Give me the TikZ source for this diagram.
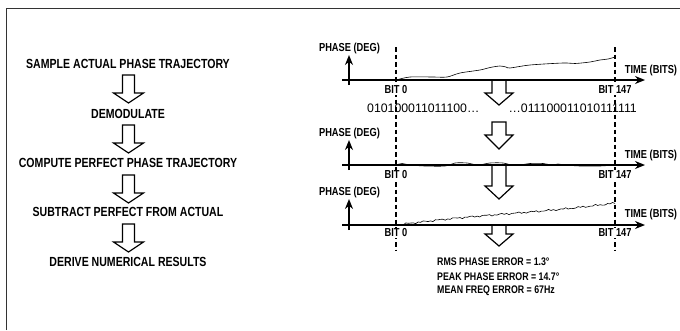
\documentclass[tikz,border=0pt]{standalone}
\usepackage{fontspec}
\setmainfont{Liberation Sans}
\newfontfamily\condfont[FakeStretch=0.8]{Liberation Sans}
\usepackage{tikz}
\usetikzlibrary{positioning,calc,arrows.meta}

\tikzset{
  steplabel/.style={font=\condfont\bfseries\fontsize{13.2}{15}\selectfont},
  axislabel/.style={font=\condfont\bfseries\fontsize{11.6}{13}\selectfont},
  bitlabel/.style={axislabel,fill=white,inner sep=1pt},
  resultlabel/.style={font=\condfont\bfseries\fontsize{11}{13}\selectfont,anchor=west,inner sep=0pt},
  bitstring/.style={font=\fontsize{12.3}{14}\selectfont,inner sep=0pt},
  hollow/.style={draw,line width=1.2pt,fill=white,line join=miter},
  axisline/.style={line width=1.6pt,-{Stealth[length=10pt,width=8pt]}},
  marker/.style={line width=1.2pt,dash pattern=on 4.5pt off 3pt},
  trace/.style={line width=0.6pt},
  pics/blockarrow/.style args={#1/#2/#3/#4}{code={
    \draw[hollow] (-#3,0) -- (#3,0) -- (#3,#1) -- (#4,#1) -- (0,#2)
      -- (-#4,#1) -- (-#3,#1) -- cycle;}}
}

\begin{document}
\begin{tikzpicture}[x=1pt,y=-1pt]
\useasboundingbox (0,0) rectangle (680,330);
% frame
\draw[line width=1.5pt,black!80] (6.5,330) -- (6.5,8.5) -- (680,8.5);

% left column
\node[steplabel] (sample)   at (128,64)  {SAMPLE ACTUAL PHASE TRAJECTORY};
\node[steplabel] (demod)    at (128,114) {DEMODULATE};
\node[steplabel] (compute)  at (128,163) {COMPUTE PERFECT PHASE TRAJECTORY};
\node[steplabel] (subtract) at (128,212) {SUBTRACT PERFECT FROM ACTUAL};
\node[steplabel] (derive)   at (128,262) {DERIVE NUMERICAL RESULTS};
\pic at (128.5,75)  {blockarrow=18/28/6/15};
\pic at (128.5,125) {blockarrow=18/28/6/15};
\pic at (128.5,175) {blockarrow=18/28/6/15};
\pic at (128.5,224) {blockarrow=18/28/6/15};

% bit markers
\draw[marker] (396,47) -- (396,250);
\draw[marker] (615,47) -- (615,250);

% plot 1: actual phase
\draw[trace] plot[smooth,tension=0.5] coordinates {(396,80) (410,77) (433,77) (447,77)
  (460,73) (480,70) (490,67.5) (500,66) (506,67) (510,68) (530,65) (563,63)
  (575,63.5) (590,62) (600,60) (608,59) (615,57)};
\pic at (499,80) {blockarrow=13/25/7/14};
\draw[axisline] (342,80) coordinate (x1a) -- (645,80) coordinate (x1b);
\draw[axisline] (349,85) coordinate (y1a) -- (349,55) coordinate (y1b);
\node[axislabel] (phase1) at (349.5,48) {PHASE (DEG)};
\node[axislabel] (time1)  at (651,70)   {TIME (BITS)};
\node[bitlabel] (bitA1) at (396,90) {BIT 0};
\node[bitlabel] (bitB1) at (615,90) {BIT 147};

% demodulated bits
\node[bitstring,anchor=west] (bitsA) at (367,108) {010100011011100…};
\node[bitstring,anchor=east] (bitsB) at (637,108) {…011100011010111111};
\pic at (499,122) {blockarrow=13/27/7/14};

% plot 2: perfect phase
\draw[trace] plot[smooth,tension=0.5] coordinates {(396,165) (402,163.5) (410,165)
  (425,166) (445,166) (455,163) (467,163) (478,165) (490,163) (503,163)
  (515,165.5) (530,163.5) (543,163.5) (552,165) (558,164) (565,165)
  (580,166) (600,166) (615,165)};
\pic at (499,165) {blockarrow=21/34/7/14};
\draw[axisline] (342,165) coordinate (x2a) -- (645,165) coordinate (x2b);
\draw[axisline] (349,170) coordinate (y2a) -- (349,140) coordinate (y2b);
\node[axislabel] (phase2) at (349.5,133) {PHASE (DEG)};
\node[axislabel] (time2)  at (651,155)   {TIME (BITS)};
\node[bitlabel] (bitA2) at (396,175) {BIT 0};
\node[bitlabel] (bitB2) at (615,175) {BIT 147};

% plot 3: phase error
\draw[trace] plot[domain=0:219,samples=90]
  ({396+\x},{225-22*\x/219+0.6*sin(\x*61)+0.5*sin(\x*23)-0.8*sin(\x*1.6)});
\pic at (499,225) {blockarrow=9/21/7/14};
\draw[axisline] (342,225) coordinate (x3a) -- (645,225) coordinate (x3b);
\draw[axisline] (349,230) coordinate (y3a) -- (349,199) coordinate (y3b);
\node[axislabel] (phase3) at (349.5,192) {PHASE (DEG)};
\node[axislabel] (time3)  at (651,214)   {TIME (BITS)};
\node[bitlabel] (bitA3) at (396,233) {BIT 0};
\node[bitlabel] (bitB3) at (615,233) {BIT 147};

% results
\node[resultlabel] (rms)  at (437,262) {RMS PHASE ERROR = 1.3°};
\node[resultlabel] (peak) at (437,277) {PEAK PHASE ERROR = 14.7°};
\node[resultlabel] (freq) at (437,291) {MEAN FREQ ERROR = 67Hz};
\end{tikzpicture}
\end{document}
